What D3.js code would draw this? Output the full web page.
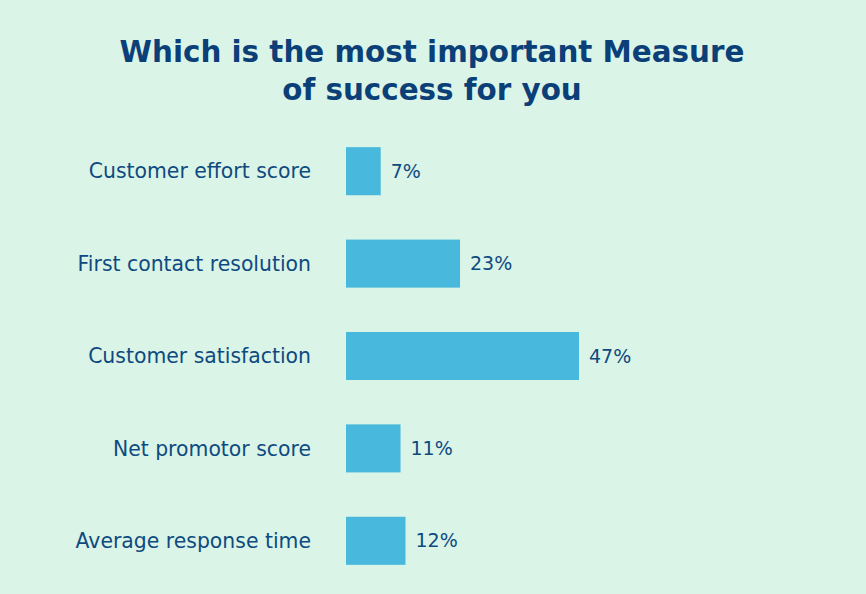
<!DOCTYPE html>
<html><head><meta charset="utf-8">
<script src="https://cdn.jsdelivr.net/npm/d3@7"></script>
<style>
html,body{margin:0;padding:0;background:#daf4e7;}
svg{display:block;}
</style></head>
<body><svg id="chart" width="866" height="594"></svg>
<script>
const titleLines = ["Which is the most important Measure", "of success for you"];
const categories = ["Customer effort score", "First contact resolution", "Customer satisfaction", "Net promotor score", "Average response time"];
const values = [7, 23, 47, 11, 12];

const W = 866, H = 594;
const svg = d3.select("#chart");
svg.append("rect").attr("width", W).attr("height", H).attr("fill", "#daf4e7");

const x = d3.scaleLinear().domain([0, 47]).range([346, 579]);
const y = d3.scaleBand().domain(categories).range([125, 587]).paddingInner(0.48).paddingOuter(0.24);

svg.selectAll("text.title").data(titleLines).enter().append("text")
  .attr("class", "title")
  .attr("x", 432).attr("y", (d, i) => 62 + i * 38)
  .attr("text-anchor", "middle")
  .attr("font-family", "'DejaVu Sans', sans-serif")
  .attr("font-weight", "bold")
  .attr("font-size", 29.4)
  .attr("fill", "#0b3f78")
  .text(d => d);

const data = categories.map((c, i) => ({c, v: values[i]}));

svg.selectAll("rect.bar").data(data).enter().append("rect")
  .attr("class", "bar")
  .attr("x", x(0)).attr("y", d => y(d.c))
  .attr("width", d => x(d.v) - x(0))
  .attr("height", y.bandwidth())
  .attr("fill", "#48b8dc");

svg.selectAll("text.cat").data(data).enter().append("text")
  .attr("class", "cat")
  .attr("x", 311).attr("y", d => y(d.c) + y.bandwidth() / 2)
  .attr("dy", "0.35em")
  .attr("text-anchor", "end")
  .attr("font-family", "'DejaVu Sans', sans-serif")
  .attr("font-size", 20.4)
  .attr("fill", "#0e4a80")
  .text(d => d.c);

svg.selectAll("text.val").data(data).enter().append("text")
  .attr("class", "val")
  .attr("x", d => x(d.v) + 10).attr("y", d => y(d.c) + y.bandwidth() / 2)
  .attr("dy", "0.35em")
  .attr("font-family", "'DejaVu Sans', sans-serif")
  .attr("font-size", 19)
  .attr("fill", "#0e4a80")
  .text(d => d.v + "%");
</script></body></html>
